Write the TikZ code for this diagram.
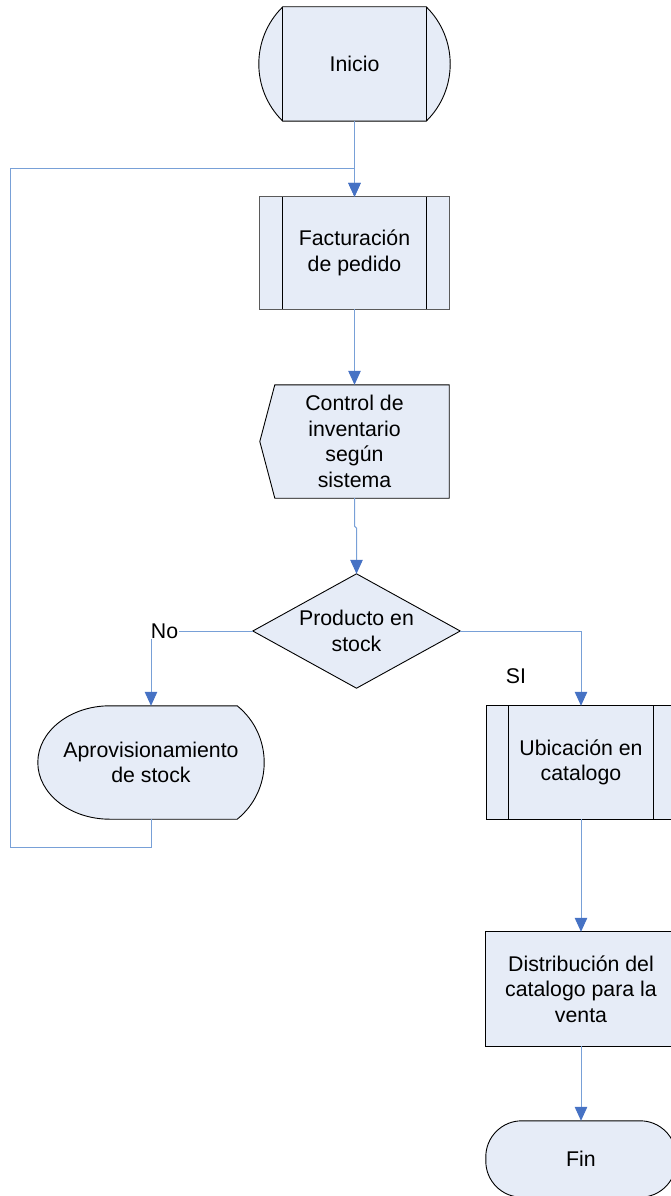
\documentclass[tikz,border=0pt]{standalone}
\usepackage{fontspec}
\setmainfont{Liberation Sans}
\usetikzlibrary{arrows.meta,backgrounds,calc}

\definecolor{boxfill}{RGB}{230,236,247}
\definecolor{linecol}{RGB}{120,160,215}
\definecolor{arrowcol}{RGB}{70,114,196}
\definecolor{framegray}{RGB}{90,90,90}
\newcommand\lbfont{\fontsize{21.3}{25.6}\selectfont}

\tikzset{
  lbl/.style={font=\lbfont, align=center, text=black, inner sep=0pt},
  shapeline/.style={fill=boxfill, draw=black, line width=0.9pt},
  flow/.style={draw=linecol, line width=1pt,
    -{Triangle[length=14pt,width=12.5pt,color=arrowcol]}},
  tag/.style={font=\lbfont, text=black, fill=white, inner sep=1pt},
}

\begin{document}
\begin{tikzpicture}[x=1pt,y=-1pt]
\useasboundingbox (0,0) rectangle (671,1196);
\clip (0,0) rectangle (671,1196);

% text nodes; their frames set the shape outlines
\node[lbl, minimum width=143, minimum height=114] (inicio) at (354.5,64) {Inicio};
\node[lbl, minimum width=189, minimum height=112] (fact) at (354.5,253) {Facturación\\de pedido};
\node[lbl, minimum width=189, minimum height=113] (ctrl) at (354.5,441.5) {Control de\\inventario\\según\\sistema};
\node[lbl, minimum width=207, minimum height=114] (prod) at (356.5,631) {Producto en\\stock};
\node[lbl, minimum width=226, minimum height=113] (aprov) at (151,762.5) {Aprovisionamiento\\de stock};
\node[lbl, minimum width=188, minimum height=113] (ubic) at (581,762.5) {Ubicación en\\catalogo};
\node[lbl, minimum width=190, minimum height=114] (dist) at (581,989) {Distribución del\\catalogo para la\\venta};
\node[lbl, minimum width=190, minimum height=76] (fin) at (581,1159) {Fin};

\begin{scope}[on background layer]
  % start terminal with curved ends
  \draw[shapeline] (inicio.north west) -- (inicio.north east)
    .. controls ($(inicio.north east)+(32,31.3)$) and ($(inicio.south east)+(32,-31.3)$) .. (inicio.south east)
    -- (inicio.south west)
    .. controls ($(inicio.south west)+(-32,-31.3)$) and ($(inicio.north west)+(-32,31.3)$) .. cycle;
  \draw[line width=0.9pt] (inicio.north west) -- (inicio.south west);
  \draw[line width=0.9pt] (inicio.north east) -- (inicio.south east);

  % predefined process
  \draw[fill=boxfill, draw=framegray, line width=1.2pt] (fact.north west) rectangle (fact.south east);
  \draw[line width=0.9pt] ($(fact.north west)+(23,0)$) -- ($(fact.south west)+(23,0)$);
  \draw[line width=0.9pt] ($(fact.north east)+(-23,0)$) -- ($(fact.south east)+(-23,0)$);

  % display
  \draw[shapeline] ($(ctrl.north west)+(15,0)$) -- (ctrl.north east) -- (ctrl.south east)
    -- ($(ctrl.south west)+(15,0)$) -- (ctrl.west) -- cycle;

  % decision
  \draw[shapeline] (prod.north) -- (prod.east) -- (prod.south) -- (prod.west) -- cycle;

  % restock shape
  \draw[shapeline] ($(aprov.north west)+(72,0)$) -- ($(aprov.north east)+(-27,0)$)
    .. controls ($(aprov.north east)+(9,29.1)$) and ($(aprov.south east)+(9,-29.1)$) .. ($(aprov.south east)+(-27,0)$)
    -- ($(aprov.south west)+(72,0)$)
    .. controls ($(aprov.south west)+(32.3,0)$) and ($(aprov.west)+(0,31.2)$) .. (aprov.west)
    .. controls ($(aprov.west)+(0,-31.2)$) and ($(aprov.north west)+(32.3,0)$) .. cycle;

  % predefined process
  \draw[shapeline] (ubic.north west) rectangle (ubic.south east);
  \draw[line width=0.9pt] ($(ubic.north west)+(22,0)$) -- ($(ubic.south west)+(22,0)$);
  \draw[line width=0.9pt] ($(ubic.north east)+(-22,0)$) -- ($(ubic.south east)+(-22,0)$);

  % process
  \draw[shapeline] (dist.north west) rectangle (dist.south east);

  % end terminal
  \draw[shapeline, rounded corners=36pt] (fin.north west) rectangle (fin.south east);
\end{scope}

% connectors
\coordinate (loopL) at (10,847);
\coordinate (join) at (354.5,168);

\draw[flow] (inicio.south) -- (fact.north);
\draw[flow] (aprov.south) |- (loopL) |- (join) -- (fact.north);
\draw[flow] (fact.south) -- (ctrl.north);
\draw[flow] (ctrl.south) -- ++(0,28) -- ++(2,2) -- (prod.north);
\draw[flow] (prod.west) -| (aprov.north);
\draw[flow] (prod.east) -| (ubic.north);
\draw[flow] (ubic.south) -- (dist.north);
\draw[flow] (dist.south) -- (fin.north);

% branch labels
\node[tag] (no) at (164.5,631) {No};
\node[tag, fill=none] (si) at (516,676) {SI};
\end{tikzpicture}
\end{document}
